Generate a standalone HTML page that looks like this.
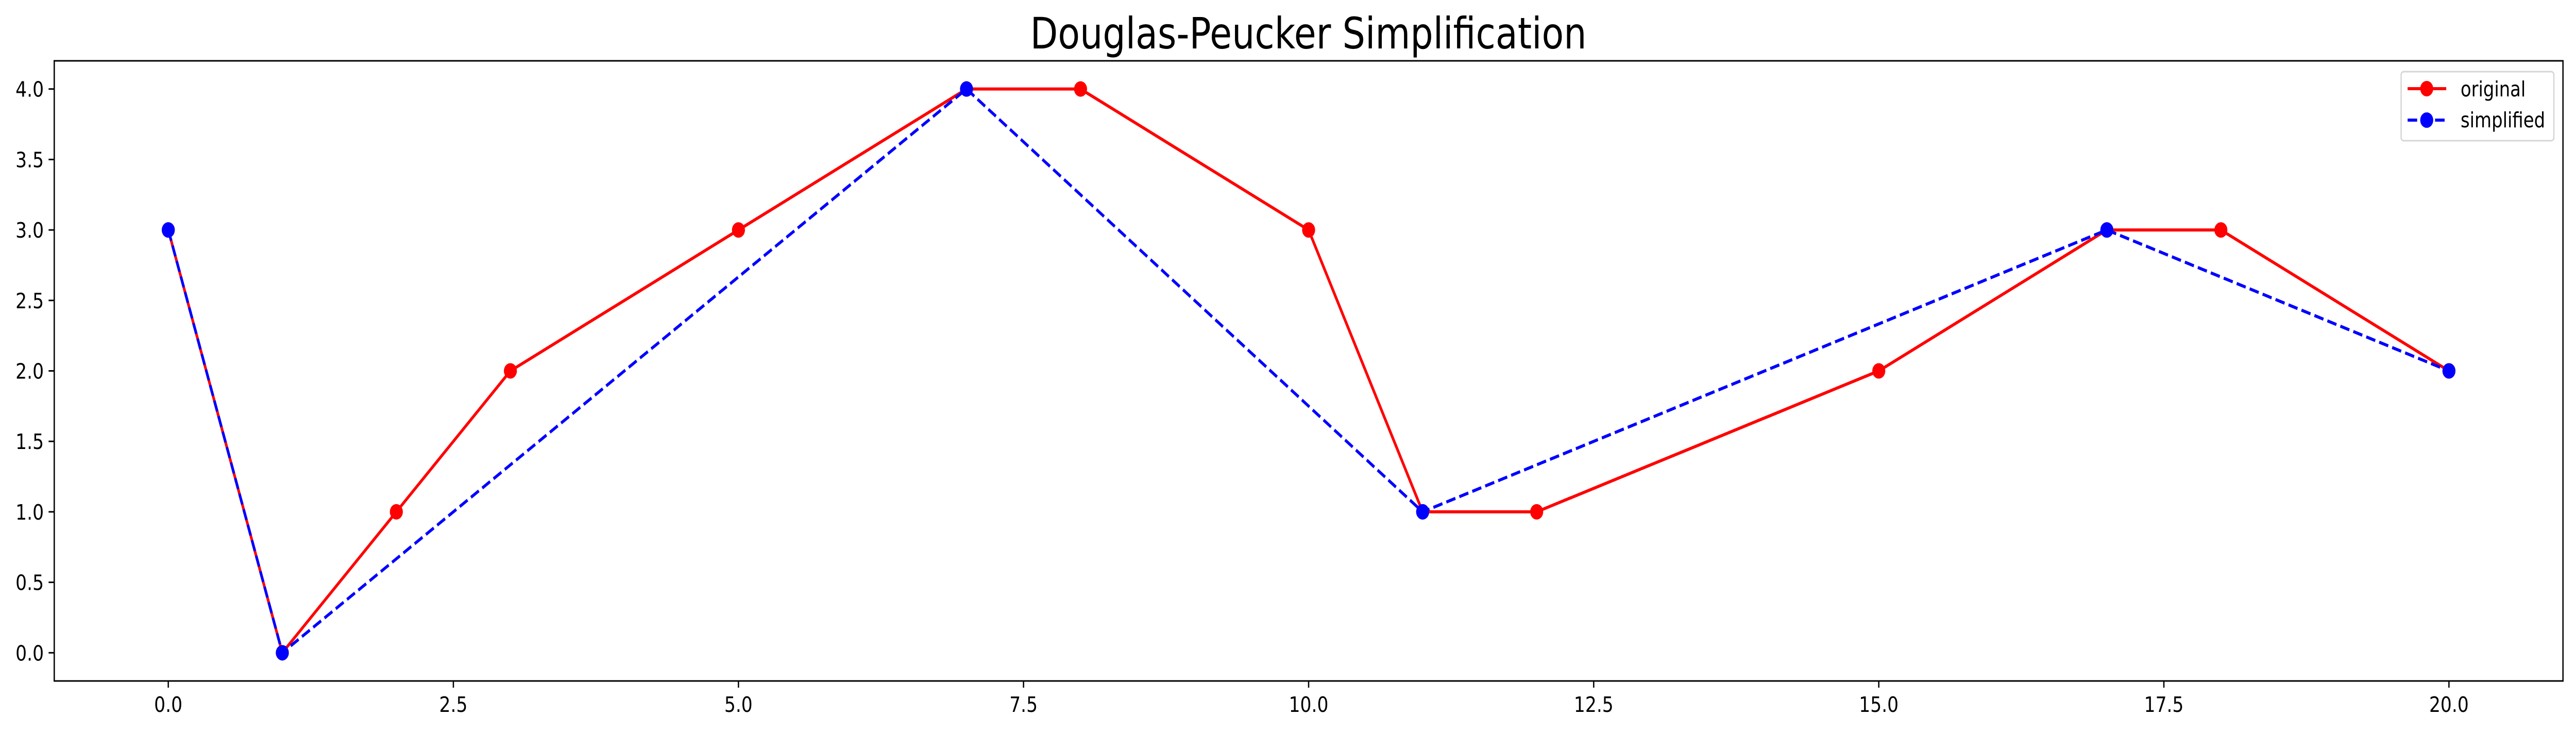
<!DOCTYPE html>
<html><head><meta charset="utf-8"><style>html,body{margin:0;padding:0;background:#fff;width:100%;height:100%;overflow:hidden}svg{display:block;width:100vw;height:100vh}</style></head>
<body>
<svg id="chart" viewBox="0 0 5936 1420" preserveAspectRatio="none" xmlns="http://www.w3.org/2000/svg" font-family="'DejaVu Sans','Liberation Sans',sans-serif">
<rect width="5936" height="1420" fill="#fff"/>
<text x="3015" y="94" font-size="84" text-anchor="middle" textLength="1282" lengthAdjust="spacingAndGlyphs">Douglas-Peucker Simplification</text>
<g id="ticks"></g>
<g id="series"></g>
<rect x="125" y="118" width="5781" height="1203" fill="none" stroke="#000" stroke-width="3"/>
<g>
<rect x="5533" y="139" width="352" height="134" rx="6" fill="#fff" fill-opacity="0.8" stroke="#d6d6d6" stroke-width="3"/>
<g>
<line x1="5548" y1="172" x2="5637" y2="172" stroke="#ff0000" stroke-width="6"/>
<circle cx="5592" cy="172" r="15" fill="#ff0000"/>
<text x="5670" y="187" font-size="41" textLength="150" lengthAdjust="spacingAndGlyphs">original</text>
</g>
<g>
<line x1="5548" y1="233" x2="5637" y2="233" stroke="#0000ff" stroke-width="6" stroke-dasharray="22,9.6"/>
<circle cx="5592" cy="233" r="15" fill="#0000ff"/>
<text x="5670" y="247" font-size="41" textLength="195" lengthAdjust="spacingAndGlyphs">simplified</text>
</g>
</g>
</svg>
<script>
const origX = [0,1,2,3,5,7,8,10,11,12,15,17,18,20];
const origY = [3,0,1,2,3,4,4,3,1,1,2,3,3,2];
const simpX = [0,1,7,11,17,20];
const simpY = [3,0,4,1,3,2];
const xTicks = [0,2.5,5,7.5,10,12.5,15,17.5,20];
const xTickLabels = ["0.0","2.5","5.0","7.5","10.0","12.5","15.0","17.5","20.0"];
const yTicks = [0,0.5,1,1.5,2,2.5,3,3.5,4];
const yTickLabels = ["0.0","0.5","1.0","1.5","2.0","2.5","3.0","3.5","4.0"];

const L=125,R=5906,T=118,B=1321, XMIN=-1,XMAX=21,YMIN=-0.2,YMAX=4.2;
const sx=v=>L+(v-XMIN)/(XMAX-XMIN)*(R-L);
const sy=v=>B-(v-YMIN)/(YMAX-YMIN)*(B-T);
const NS='http://www.w3.org/2000/svg';
const mk=(t,a,p)=>{const e=document.createElementNS(NS,t);for(const k in a)e.setAttribute(k,a[k]);p.appendChild(e);return e;};
const tg=document.getElementById('ticks');
xTicks.forEach((v,i)=>{
  const g=mk('g',{},tg);
  
  
  mk('line',{x1:sx(v),x2:sx(v),y1:B,y2:B+13,stroke:'#000','stroke-width':3},g);
  const t=mk('text',{x:sx(v),y:1381,'font-size':41,'text-anchor':'middle'},g);
  t.textContent=xTickLabels[i];
});
yTicks.forEach((v,i)=>{
  const g=mk('g',{},tg);
  
  
  mk('line',{x1:L-13,x2:L,y1:sy(v),y2:sy(v),stroke:'#000','stroke-width':3},g);
  const t=mk('text',{x:L-24,y:sy(v)+15,'font-size':41,'text-anchor':'end'},g);
  t.textContent=yTickLabels[i];
});
const sg=document.getElementById('series');
function drawSeries(xs,ys,color,dash,name){
  const g=mk('g',{},sg);
  
  
  const pl=mk('polyline',{points:xs.map((x,i)=>sx(x)+','+sy(ys[i])).join(' '),fill:'none',stroke:color,'stroke-width':6,'stroke-linejoin':'round'},g);
  if(dash)pl.setAttribute('stroke-dasharray',dash);
  
  
  xs.forEach((x,i)=>{
    const c=mk('circle',{cx:sx(x),cy:sy(ys[i]),r:15,fill:color},g);
    
    
  });
}
drawSeries(origX,origY,'#ff0000',null,'original');
drawSeries(simpX,simpY,'#0000ff','22,9.6','simplified');
</script>
</body></html>
